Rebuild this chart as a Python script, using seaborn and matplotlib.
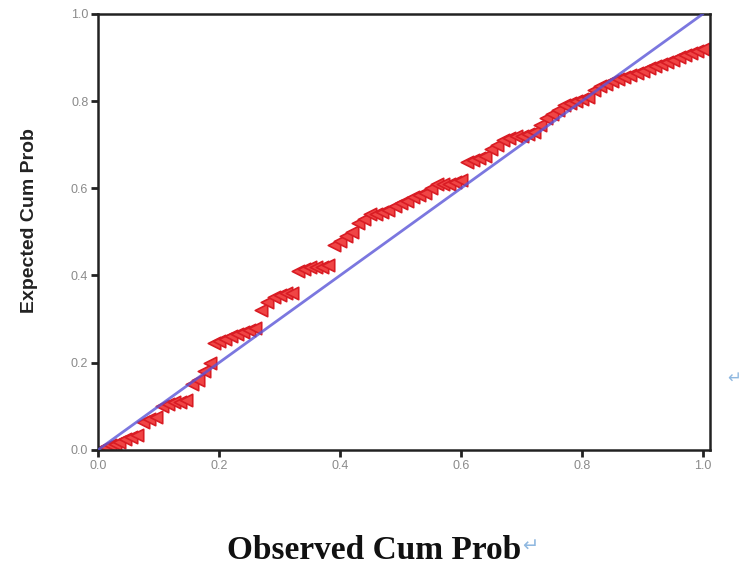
import matplotlib
matplotlib.use("Agg")
import matplotlib.pyplot as plt
import seaborn as sns
import pandas as pd

observed = [0.005, 0.012, 0.02, 0.028, 0.035, 0.045, 0.055, 0.065, 0.075, 0.085,
            0.095, 0.105, 0.115, 0.125, 0.135, 0.145, 0.155, 0.165, 0.175, 0.185,
            0.192, 0.20, 0.21, 0.22, 0.23, 0.24, 0.25, 0.26, 0.27, 0.28,
            0.29, 0.30, 0.31, 0.32, 0.33, 0.34, 0.35, 0.36, 0.37, 0.38,
            0.39, 0.40, 0.41, 0.42, 0.43, 0.44, 0.45, 0.46, 0.47, 0.48,
            0.49, 0.50, 0.51, 0.52, 0.53, 0.54, 0.55, 0.56, 0.57, 0.58,
            0.59, 0.60, 0.61, 0.62, 0.63, 0.64, 0.65, 0.66, 0.67, 0.68,
            0.69, 0.70, 0.71, 0.72, 0.73, 0.74, 0.75, 0.76, 0.77, 0.78,
            0.79, 0.80, 0.81, 0.82, 0.83, 0.84, 0.85, 0.86, 0.87, 0.88,
            0.89, 0.90, 0.91, 0.92, 0.93, 0.94, 0.95, 0.96, 0.97, 0.98,
            0.99, 1.00]
expected = [0.003, 0.006, 0.01, 0.013, 0.017, 0.025, 0.03, 0.035, 0.065, 0.07,
            0.075, 0.10, 0.105, 0.11, 0.11, 0.115, 0.15, 0.16, 0.18, 0.20,
            0.245, 0.25, 0.255, 0.26, 0.265, 0.27, 0.275, 0.28, 0.32, 0.34,
            0.35, 0.355, 0.36, 0.36, 0.41, 0.415, 0.42, 0.42, 0.42, 0.425,
            0.47, 0.48, 0.49, 0.50, 0.52, 0.53, 0.54, 0.54, 0.545, 0.55,
            0.56, 0.565, 0.57, 0.58, 0.585, 0.59, 0.60, 0.61, 0.61, 0.61,
            0.615, 0.62, 0.66, 0.665, 0.67, 0.675, 0.69, 0.70, 0.71, 0.715,
            0.72, 0.72, 0.725, 0.73, 0.745, 0.76, 0.77, 0.78, 0.79, 0.795,
            0.80, 0.805, 0.81, 0.825, 0.835, 0.84, 0.845, 0.85, 0.855, 0.86,
            0.865, 0.87, 0.875, 0.88, 0.885, 0.89, 0.895, 0.90, 0.905, 0.91,
            0.915, 0.92]
ref_x = [0.0, 1.0]
ref_y = [0.0, 1.0]
ticks = [0.0, 0.2, 0.4, 0.6, 0.8, 1.0]
tick_labels = ["0.0", "0.2", "0.4", "0.6", "0.8", "1.0"]

sns.set_style("white")
plt.rcParams['font.family'] = ['Liberation Sans', 'DejaVu Sans']

fig = plt.figure(figsize=(7.43, 5.76), dpi=100)
ax = fig.add_axes([0.132, 0.219, 0.824, 0.757])

df = pd.DataFrame({"obs": observed, "exp": expected})
sns.scatterplot(data=df, x="obs", y="exp", marker="<", s=80,
                color="#f04545", edgecolor="#d91c24", linewidth=1.2,
                ax=ax, zorder=2)
sns.lineplot(x=ref_x, y=ref_y, color="#5a55d8", linewidth=2.0, alpha=0.8,
             ax=ax, zorder=3)

ax.set_xlim(0, 1.012)
ax.set_ylim(0, 1.0)
ax.set_xticks(ticks)
ax.set_xticklabels(tick_labels)
ax.set_yticks(ticks)
ax.set_yticklabels(tick_labels)
ax.tick_params(axis='both', direction='out', length=5, width=2, color="#222222",
               labelsize=9, labelcolor="#8a8a8a", pad=2)
ax.tick_params(axis='both', which='both', bottom=True, left=True)
for sp in ax.spines.values():
    sp.set_color("#222222")
    sp.set_linewidth(1.8)
ax.set_xlabel("")
ax.set_ylabel("Expected Cum Prob", fontsize=14, fontweight='bold',
              color="#222222")
ax.yaxis.set_label_coords(-0.098, 0.527)

fig.text(0.503, 0.045, "Observed Cum Prob", ha='center', va='center',
         fontsize=24, fontweight='bold', family=['Liberation Serif', 'DejaVu Serif'],
         color="#111111")
fig.text(0.703, 0.052, "\u21b5", ha='left', va='center', fontsize=14,
         family=['DejaVu Sans'], color="#8fb8e0")
fig.text(0.998, 0.344, "\u21b5", ha='right', va='center', fontsize=12,
         family=['DejaVu Sans'], color="#8fb8e0")

fig.savefig("out.png", dpi=100)
